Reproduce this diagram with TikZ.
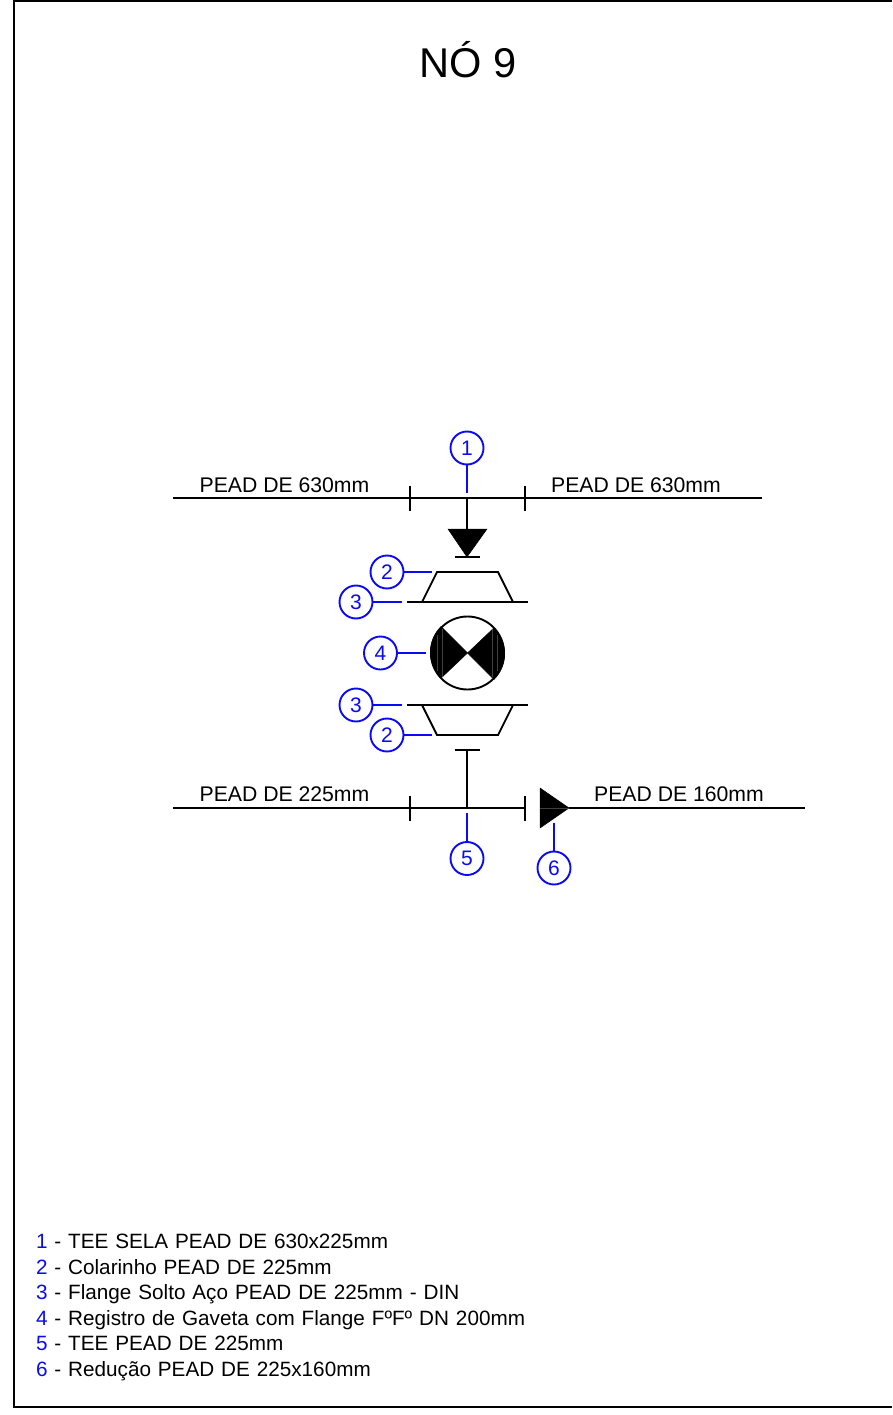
\documentclass[tikz,border=0pt]{standalone}
\usepackage{fontspec}
\setmainfont{Liberation Sans}
\usetikzlibrary{positioning}
\definecolor{callout}{RGB}{10,10,245}
\tikzstyle{pipe} = [draw, line width=1.8pt, color=black]
\tikzstyle{leader} = [draw, line width=1.9pt, color=callout]
\tikzstyle{num} = [circle, draw=callout, line width=1.9pt, text=callout, fill=white, minimum size=33pt, inner sep=0pt, font=\fontsize{21}{21}\selectfont]
\tikzstyle{pipelabel} = [inner sep=0pt, font=\fontsize{21.2}{21}\selectfont]
\tikzstyle{legend} = [text width=520pt, inner sep=0pt, align=left, text height=15pt, text depth=4pt, font=\fontsize{20.7}{21}\selectfont, node distance=25.6pt]
\tikzstyle{solid} = [fill=black, draw=black, line width=0.5pt]
\tikzstyle{streak} = [draw, line width=0.3pt, color=black!75]
\newcommand{\callnum}[1]{{\color{callout}#1}}

\begin{document}
\begin{tikzpicture}[x=1pt,y=-1pt]
	\useasboundingbox (0,0) rectangle (892,1415);
	%% frame
	\draw[line width=2pt] (892,1) -- (14,1) -- (14,1407) -- (892,1407);
	%% title
	\node[inner sep=0pt, font=\fontsize{41.6}{42}\selectfont] (Title) at (468,59.5) {NÓ 9};
	%% upper pipe
	\coordinate (A1) at (173,498);
	\coordinate (A2) at (762,498);
	\coordinate (TA) at (467,498);
	\coordinate (TL) at (410,498);
	\coordinate (TR) at (525,498);
	\node[pipelabel] (LA1) at (284.5,485) {PEAD DE 630mm};
	\node[pipelabel] (LA2) at (636,485) {PEAD DE 630mm};
	%% lower pipe
	\coordinate (B1) at (173,808);
	\coordinate (B2) at (525,808);
	\coordinate (TB) at (467,808);
	\coordinate (BL) at (410,808);
	\coordinate (C1) at (569,808);
	\coordinate (C2) at (805,808);
	\node[pipelabel] (LB1) at (284.5,794) {PEAD DE 225mm};
	\node[pipelabel] (LB2) at (679,794) {PEAD DE 160mm};
	%% saddle tee
	\coordinate (S1) at (467,529);
	\coordinate (S2) at (467,557);
	\fill[solid] (448,529) -- (487,529) -- (S2) -- cycle;
	%% lower tee
	\coordinate (U1) at (467,750);
	%% reducer
	\fill[solid] (540,788) -- (C1) -- (540,828) -- cycle;
	\draw[streak] (540,808) -- (C1);
	%% collars and flanges
	\draw[pipe] (437,572) -- (498,572) -- (513,602) -- (422,602) -- cycle;
	\draw[pipe] (422,705) -- (513,705) -- (498,735) -- (437,735) -- cycle;
	\coordinate (F1) at (407,602);
	\coordinate (F2) at (528,602);
	\coordinate (F3) at (407,705);
	\coordinate (F4) at (528,705);
	%% valve
	\node[circle, draw, line width=1.9pt, minimum size=73pt, inner sep=0pt] (V) at (467.5,653) {};
	\fill[solid] (V.center) -- (V.135) arc[start angle=135, end angle=225, radius=36.5pt] -- cycle;
	\fill[solid] (V.center) -- (V.315) arc[start angle=-45, end angle=45, radius=36.5pt] -- cycle;
	\draw[streak] ([shift={(-25pt,24pt)}]V.center) -- ([shift={(-25pt,-24pt)}]V.center);
	\draw[streak] ([shift={(-30pt,18pt)}]V.center) -- ([shift={(-30pt,-18pt)}]V.center);
	\draw[streak] ([shift={(25pt,24pt)}]V.center) -- ([shift={(25pt,-24pt)}]V.center);
	\draw[streak] ([shift={(30pt,18pt)}]V.center) -- ([shift={(30pt,-18pt)}]V.center);
	%% edges
	\path[pipe] (A1) -- (A2);
	\path[pipe] ([yshift=12.5pt]TL) -- ([yshift=-12.5pt]TL);
	\path[pipe] ([yshift=12.5pt]TR) -- ([yshift=-12.5pt]TR);
	\path[pipe] (TA) -- (S1);
	\path[pipe] ([xshift=-12.5pt]S2) -- ([xshift=12.5pt]S2);
	\path[pipe] (F1) -- (F2);
	\path[pipe] (F3) -- (F4);
	\path[pipe] ([xshift=-12.5pt]U1) -- ([xshift=12.5pt]U1);
	\path[pipe] (U1) -- (TB);
	\path[pipe] (B1) -- (B2);
	\path[pipe] ([yshift=12.5pt]BL) -- ([yshift=-12.5pt]BL);
	\path[pipe] ([yshift=12.5pt]B2) -- ([yshift=-12.5pt]B2);
	\path[pipe] (C1) -- (C2);
	%% callouts
	\node[num] (N1) at (467,448) {1};
	\node[num] (N2a) at (387,572) {2};
	\node[num] (N3a) at (356,602) {3};
	\node[num] (N4) at (380.5,653) {4};
	\node[num] (N3b) at (356,705) {3};
	\node[num] (N2b) at (387,735) {2};
	\node[num] (N5) at (467,858.5) {5};
	\node[num] (N6) at (554,868) {6};
	\coordinate (E1) at (467,493);
	\coordinate (E2a) at (432,572);
	\coordinate (E3a) at (402,602);
	\coordinate (E4) at (426,653);
	\coordinate (E3b) at (402,705);
	\coordinate (E2b) at (432,735);
	\coordinate (E5) at (467,813);
	\coordinate (E6) at (554,823);
	\path[leader] (N1) -- (E1);
	\path[leader] (N2a) -- (E2a);
	\path[leader] (N3a) -- (E3a);
	\path[leader] (N4) -- (E4);
	\path[leader] (N3b) -- (E3b);
	\path[leader] (N2b) -- (E2b);
	\path[leader] (N5) -- (E5);
	\path[leader] (N6) -- (E6);
	%% legend
	\node[legend] (K1) at (296,1243) {\callnum{1} - TEE SELA PEAD DE 630x225mm};
	\node[legend, below of=K1] (K2) {\callnum{2} - Colarinho PEAD DE 225mm};
	\node[legend, below of=K2] (K3) {\callnum{3} - Flange Solto Aço PEAD DE 225mm - DIN};
	\node[legend, below of=K3] (K4) {\callnum{4} - Registro de Gaveta com Flange FºFº DN 200mm};
	\node[legend, below of=K4] (K5) {\callnum{5} - TEE PEAD DE 225mm};
	\node[legend, below of=K5] (K6) {\callnum{6} - Redução PEAD DE 225x160mm};
\end{tikzpicture}
\end{document}
